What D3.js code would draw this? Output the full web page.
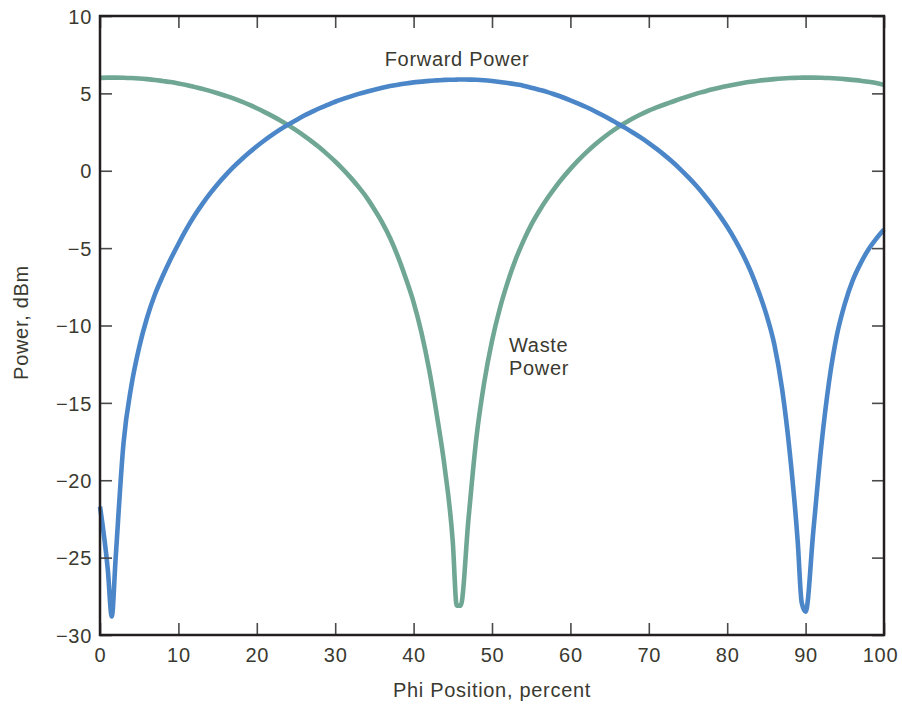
<!DOCTYPE html>
<html>
<head>
<meta charset="utf-8">
<script src="https://cdn.jsdelivr.net/npm/d3@7"></script>
<style>
  body { margin: 0; background: #fff; }
  text { font-family: "Liberation Sans", Arial, sans-serif; fill: #3a3a30; letter-spacing: 0.7px; }
</style>
</head>
<body>
<svg id="chart" width="902" height="709"></svg>
<script>
// phi position, percent (extra samples at the nulls)
const phi = [
    0, 1, 1.5, 2, 3, 4, 5, 6, 7, 8, 9, 10, 11, 12, 13, 14, 15, 16, 17, 18, 19, 20,
    21, 22, 23, 24, 25, 26, 27, 28, 29, 30, 31, 32, 33, 34, 35, 36, 37, 38, 39, 40,
    41, 42, 43, 44, 45, 45.5, 46, 47, 48, 49, 50, 51, 52, 53, 54, 55, 56, 57, 58, 59, 60,
    61, 62, 63, 64, 65, 66, 67, 68, 69, 70, 71, 72, 73, 74, 75, 76, 77, 78, 79, 80,
    81, 82, 83, 84, 85, 86, 87, 88, 89, 89.5, 90, 91, 92, 93, 94, 95, 96, 97, 98, 99, 100
];

// dBm
const forwardPower = [
    -21.7, -25.8, -28.8, -25.0, -17.6, -13.9, -11.4, -9.5, -8.0, -6.8, -5.72, -4.73, -3.79, -2.94, -2.19, -1.50, -0.87, -0.30, 0.23, 0.71, 1.16, 1.58,
    1.97, 2.33, 2.67, 2.98, 3.27, 3.55, 3.80, 4.04, 4.25, 4.46, 4.64, 4.81, 4.97, 5.11, 5.24, 5.36, 5.47, 5.56, 5.64, 5.71,
    5.76, 5.81, 5.84, 5.87, 5.88, 5.89, 5.90, 5.89, 5.88, 5.85, 5.80, 5.74, 5.67, 5.59, 5.50, 5.37, 5.24, 5.10, 4.93, 4.75, 4.55,
    4.34, 4.12, 3.88, 3.62, 3.35, 3.06, 2.77, 2.46, 2.14, 1.79, 1.41, 1.01, 0.58, 0.11, -0.40, -0.94, -1.53, -2.17, -2.87, -3.62,
    -4.46, -5.41, -6.5, -7.8, -9.3, -11.2, -14.1, -18.3, -24.0, -27.9, -28.5, -23.2, -17.8, -13.6, -10.6, -8.6, -7.1, -6.0, -5.1, -4.4, -3.8
];

const wastePower = [
    6.00, 6.02, 6.02, 6.02, 6.01, 5.99, 5.96, 5.92, 5.87, 5.80, 5.73, 5.64, 5.54, 5.42, 5.30, 5.16, 5.01, 4.85, 4.68, 4.48, 4.27, 4.04,
    3.79, 3.53, 3.25, 2.95, 2.62, 2.27, 1.90, 1.50, 1.06, 0.60, 0.09, -0.46, -1.06, -1.72, -2.5, -3.35, -4.35, -5.55, -6.95, -8.5,
    -10.45, -12.9, -15.9, -19.3, -24.0, -28.1, -28.1, -22.5, -17.3, -13.7, -11.0, -8.9, -7.2, -5.75, -4.55, -3.5, -2.62, -1.83, -1.12, -0.47, 0.12,
    0.67, 1.17, 1.63, 2.05, 2.44, 2.79, 3.10, 3.39, 3.65, 3.89, 4.09, 4.28, 4.46, 4.64, 4.81, 4.97, 5.11, 5.25, 5.37, 5.48,
    5.58, 5.67, 5.75, 5.82, 5.87, 5.92, 5.96, 5.99, 6.01, 6.02, 6.02, 6.02, 6.01, 5.99, 5.96, 5.92, 5.87, 5.82, 5.75, 5.67, 5.55
];

const xTicks = [0, 10, 20, 30, 40, 50, 60, 70, 80, 90, 100];
const yTicks = [-30, -25, -20, -15, -10, -5, 0, 5, 10];

drawChart();

function drawChart() {
    const svg = d3.select("#chart");
    const width = +svg.attr("width");
    const height = +svg.attr("height");
    const margin = { top: 16, right: 18, bottom: 74, left: 100 };

    const chartWidth = width - margin.left - margin.right;
    const chartHeight = height - margin.top - margin.bottom;

    const x = d3.scaleLinear().domain([0, 100]).range([0, chartWidth]);
    const y = d3.scaleLinear().domain([-30, 10]).range([chartHeight, 0]);

    const g = svg.append("g")
        .attr("transform", `translate(${margin.left},${margin.top})`);

    const fmt = d => d < 0 ? "\u2212" + Math.abs(d) : String(d);

    // curves
    const series = [
        { values: wastePower, color: "#6fa794" },
        { values: forwardPower, color: "#4b86c8" }
    ];
    const line = d3.line()
        .curve(d3.curveMonotoneX)
        .x(d => x(d[0]))
        .y(d => y(d[1]));

    series.forEach(s => {
        g.append("path")
            .datum(phi.map((p, i) => [p, s.values[i]]))
            .attr("fill", "none")
            .attr("stroke", s.color)
            .attr("stroke-width", 4.6)
            .attr("stroke-linejoin", "round")
            .attr("d", line);
    });

    // axes, ticks pointing inward
    const bottom = g.append("g")
        .attr("transform", `translate(0,${chartHeight})`)
        .call(d3.axisBottom(x).tickValues(xTicks).tickSize(-12).tickPadding(13).tickFormat(fmt));
    const left = g.append("g")
        .call(d3.axisLeft(y).tickValues(yTicks).tickSize(-12).tickPadding(8).tickFormat(fmt));
    const top = g.append("g")
        .call(d3.axisTop(x).tickValues(xTicks).tickSize(-12).tickFormat(""));
    const right = g.append("g")
        .attr("transform", `translate(${chartWidth},0)`)
        .call(d3.axisRight(y).tickValues(yTicks).tickSize(-12).tickFormat(""));

    [bottom, left, top, right].forEach(a => {
        a.select(".domain").remove();
        a.selectAll(".tick line").attr("stroke", "#4a4a4a").attr("stroke-width", 1.6);
        a.selectAll(".tick text")
            .style("font-size", "20px")
            .style("fill", "#3a3a30")
            .style("font-family", "'Liberation Sans', Arial, sans-serif");
    });
    left.selectAll(".tick text").attr("dy", "0.36em");
    bottom.selectAll(".tick text").filter(d => d === 100).attr("dx", -4);

    g.append("rect")
        .attr("width", chartWidth)
        .attr("height", chartHeight)
        .attr("fill", "none")
        .attr("stroke", "#231f20")
        .attr("stroke-width", 2.5);

    // axis titles
    svg.append("text")
        .attr("x", margin.left + chartWidth / 2)
        .attr("y", 697)
        .attr("text-anchor", "middle")
        .style("font-size", "20px")
        .text("Phi Position, percent");

    svg.append("text")
        .attr("transform", `translate(28,${margin.top + chartHeight / 2 - 3}) rotate(-90)`)
        .attr("text-anchor", "middle")
        .style("font-size", "20px")
        .text("Power, dBm");

    // curve labels
    svg.append("text")
        .attr("x", 457)
        .attr("y", 66)
        .attr("text-anchor", "middle")
        .style("font-size", "20px")
        .text("Forward Power");

    const waste = svg.append("text")
        .attr("x", 509)
        .attr("y", 352)
        .style("font-size", "20px");
    waste.append("tspan").attr("x", 509).text("Waste");
    waste.append("tspan").attr("x", 509).attr("dy", 23).text("Power");
}
</script>
</body>
</html>
